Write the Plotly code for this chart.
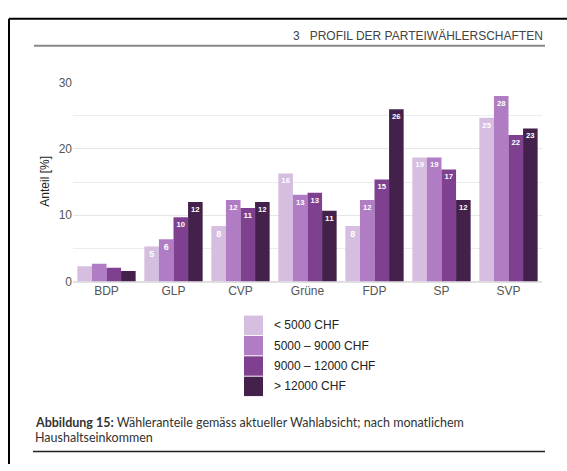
import plotly.graph_objects as go

W, H = 567, 471

parties = ["BDP", "GLP", "CVP", "Grüne", "FDP", "SP", "SVP"]
income_groups = ["< 5000 CHF", "5000 – 9000 CHF", "9000 – 12000 CHF", "> 12000 CHF"]
colors = ["#d5bedf", "#b07cc3", "#7f418f", "#43214b"]

v_lt5000 = [2.3, 5.3, 8.4, 16.3, 8.4, 18.7, 24.7]
v_5000_9000 = [2.7, 6.4, 12.3, 13.1, 12.3, 18.7, 28.0]
v_9000_12000 = [2.1, 9.7, 11.1, 13.4, 15.4, 16.9, 22.1]
v_gt12000 = [1.6, 12.0, 12.0, 10.7, 26.0, 12.3, 23.1]
series = [v_lt5000, v_5000_9000, v_9000_12000, v_gt12000]

y_ticks = [0, 10, 20, 30]

header_text = "3   PROFIL DER PARTEIWÄHLERSCHAFTEN"
caption_bold = "Abbildung 15:"
caption_line1 = " Wähleranteile gemäss aktueller Wahlabsicht; nach monatlichem"
caption_line2 = "Haushaltseinkommen"
y_title = "Anteil [%]"

SANS = "Liberation Sans, Arial, sans-serif"


def px(x):
    return x / W


def py(y):
    return 1 - y / H


fig = go.Figure()
for name, vals, col in zip(income_groups, series, colors):
    fig.add_trace(go.Bar(
        x=parties, y=vals, name=name, marker=dict(color=col, line=dict(width=0)),
        text=[("%d" % round(v)) if v >= 3 else "" for v in vals],
        textposition="inside", insidetextanchor="end", textangle=0,
        textfont=dict(family=SANS, size=9, color="white", weight="bold"),
        showlegend=False, hoverinfo="skip",
    ))

fig.update_layout(
    width=W, height=H, margin=dict(l=0, r=0, t=0, b=0),
    paper_bgcolor="white", plot_bgcolor="white",
    barmode="group", bargap=0.13, bargroupgap=0,
    font=dict(family=SANS, size=11, color="#555"),
    xaxis=dict(domain=[px(73), px(542)], showline=False, ticks="",
               tickfont=dict(family=SANS, size=12, color="#555")),
    yaxis=dict(domain=[py(283), py(78)], range=[0, 30], tickvals=y_ticks,
               showgrid=True, gridcolor="#e6e6e6", gridwidth=1,
               zeroline=True, zerolinecolor="#e0e0e0", showline=False, ticks="",
               tickfont=dict(family=SANS, size=12, color="#555"),
               minor=dict(dtick=5, showgrid=True, gridcolor="#ececec")),
)

shapes = []
# frame
shapes.append(dict(type="line", xref="paper", yref="paper", x0=px(9), x1=px(9), y0=py(12), y1=py(471),
                   line=dict(color="black", width=2)))
shapes.append(dict(type="line", xref="paper", yref="paper", x0=px(9), x1=px(567), y0=py(12), y1=py(12),
                   line=dict(color="black", width=2)))
# header rule
shapes.append(dict(type="line", xref="paper", yref="paper", x0=px(34), x1=px(545), y0=py(40), y1=py(40),
                   line=dict(color="#888", width=2)))
# caption rule
shapes.append(dict(type="line", xref="paper", yref="paper", x0=px(33), x1=px(545), y0=py(458), y1=py(458),
                   line=dict(color="#222", width=1.5)))

annotations = []
# custom legend
for i, (name, col) in enumerate(zip(income_groups, colors)):
    top = 318 + i * 21
    shapes.append(dict(type="rect", xref="paper", yref="paper", x0=px(244), x1=px(263),
                       y0=py(top + 20), y1=py(top), fillcolor=col, line=dict(width=0)))
    annotations.append(dict(xref="paper", yref="paper", x=px(272), y=py(top + 10), text=name,
                            showarrow=False, xanchor="left", yanchor="middle",
                            font=dict(family=SANS, size=12, color="#222")))

annotations.append(dict(xref="paper", yref="paper", x=px(545), y=py(30), text=header_text,
                        showarrow=False, xanchor="right", yanchor="middle",
                        font=dict(family=SANS, size=12, color="#444")))
annotations.append(dict(xref="paper", yref="paper", x=px(45), y=py(180), text=y_title, textangle=-90,
                        showarrow=False, xanchor="center", yanchor="middle",
                        font=dict(family=SANS, size=12, color="#222")))
annotations.append(dict(xref="paper", yref="paper", x=px(33), y=py(428),
                        text="<b>" + caption_bold + "</b>" + caption_line1,
                        showarrow=False, xanchor="left", yanchor="middle",
                        font=dict(family="Lato", size=12.5, color="#333")))
annotations.append(dict(xref="paper", yref="paper", x=px(33), y=py(444), text=caption_line2,
                        showarrow=False, xanchor="left", yanchor="middle",
                        font=dict(family="Lato", size=12.5, color="#333")))

fig.update_layout(shapes=shapes, annotations=annotations)
fig.write_html("out.html", config={"displayModeBar": False},
               post_script="document.body.style.margin='0';document.body.style.overflow='hidden';")
